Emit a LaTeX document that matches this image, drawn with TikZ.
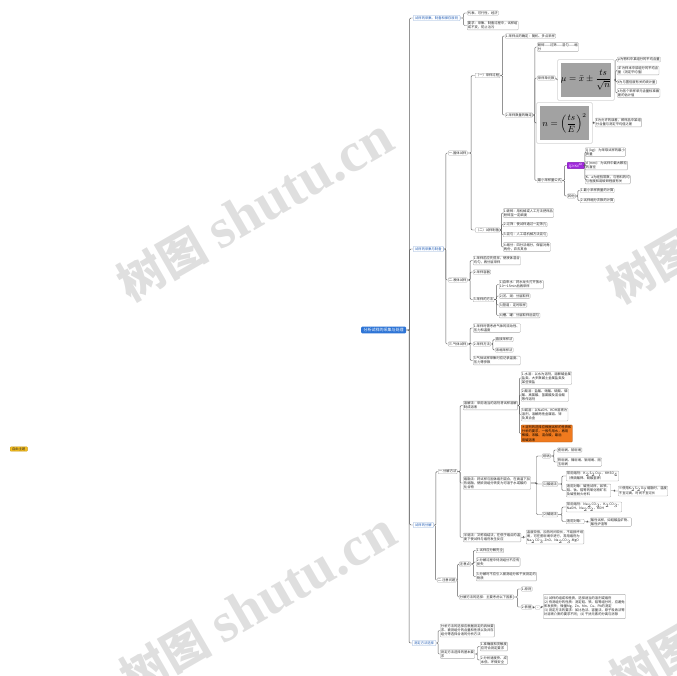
\documentclass[tikz,border=0pt]{standalone}
\usepackage[no-math]{fontspec}
\setmainfont{Noto Sans CJK SC}
\newfontfamily\wmlatin{Liberation Serif}
\usepackage{tikz}
\usetikzlibrary{positioning, calc, fit}
\definecolor{rootblue}{RGB}{46,117,214}
\definecolor{topicblue}{RGB}{30,90,180}
\definecolor{tagpurple}{RGB}{160,40,220}
\definecolor{warnorange}{RGB}{240,122,30}
\definecolor{freeyellow}{RGB}{246,190,30}
\definecolor{formgray}{RGB}{162,162,162}
\definecolor{linkgray}{RGB}{90,90,90}

\tikzset{
  leaf/.style={draw=gray!65, fill=white, rounded corners=0.8pt, line width=0.35pt,
    inner xsep=0.8pt, inner ysep=0.7pt, font=\fontsize{3.3}{4.2}\selectfont,
    align=left, anchor=west, text=black!85},
  topic/.style={leaf, draw=topicblue!50, text=topicblue, inner xsep=2pt, inner ysep=1pt},
  root/.style={fill=rootblue, text=white, rounded corners=1.2pt, inner xsep=2.5pt,
    inner ysep=1.6pt, font=\fontsize{4}{5}\selectfont, anchor=west},
  tag/.style={leaf, fill=tagpurple, draw=tagpurple!80!black, text=white, inner xsep=1.6pt},
  warn/.style={leaf, fill=warnorange, draw=warnorange!70!black, text=black},
  dotbox/.style={leaf, minimum width=5pt, minimum height=3.5pt, inner sep=0.3pt, align=center},
  formula/.style={fill=formgray, inner sep=0pt, font=\fontsize{8.6}{10}\selectfont},
  frame/.style={draw=gray!65, rounded corners=0.8pt, line width=0.35pt, inner sep=3pt},
  link/.style={draw=linkgray, line width=0.45pt, rounded corners=1pt},
  wm/.style={text=gray!25, font=\bfseries, inner sep=0pt}
}

\begin{document}
\begin{tikzpicture}[x=1pt, y=-1pt]
  \useasboundingbox (0,0) rectangle (677,675);

  % watermarks
  \begin{scope}
    \clip (0,0) rectangle (677,675);
    \foreach \wx/\wy in {255/210, 258/604, 745/212, 748/606}
      \node[wm, rotate=30] at (\wx,\wy) {\fontsize{46}{46}\selectfont 树图\hspace{12pt}{\wmlatin\fontsize{56}{56}\selectfont shutu.cn}};
  \end{scope}

  % root and main topics
  \node[root] (root) at (361,330) {分析试样的采集与处理};
  \node[topic] (La) at (413,18) {试样的采集、制备和保存原则};
  \node[topic] (Lb) at (413,249) {试样的采集与制备};
  \node[topic] (Lc) at (413,525) {试样的分解};
  \node[topic] (Ld) at (412,643) {测定方法选择};
  \node[leaf, fill=freeyellow, draw=freeyellow!80!black, inner xsep=2pt] (free) at (10,449) {自由主题};

  % principles
  \node[leaf] (a1) at (467,13) {代表、可行性、经济};
  \node[leaf] (a2) at (467,25.5) {要求：采集、制备过程中，试样组\\成不变，防止沾污};

  % solid / liquid / gas
  \node[leaf] (b1) at (448,153) {一.固体试样};
  \node[leaf] (b2) at (448,280) {二.液体试样};
  \node[leaf] (b3) at (448,344) {三.气体试样};

  \node[leaf] (b11) at (475,75.5) {（一）采样过程};
  \node[leaf] (b12) at (475,230) {（二）试样制备};
  \node[leaf] (b111) at (505,36) {1.采样点的确定：随机、多点采样};
  \node[leaf] (b112) at (505,115) {2.采样数量的确定};

  \node[leaf] (f1) at (537,47) {破碎——过筛——混匀——缩\\分};
  \node[leaf] (f2) at (537,78) {采样单元数};
  \node[formula, minimum width=46pt, minimum height=34pt] (F1) at (586,80)
    {$\displaystyle \mu=\bar{x}\pm\frac{ts}{\sqrt{n}}$};
  \node[frame, fit=(F1)] (F1b) {};
  \node[leaf] (g1) at (617,59.5) {μ为物料中某组分的平均含量};
  \node[leaf] (g2) at (617,70.5) {$\bar{x}$为样本中该组分的平均含\\量（测定平均值）};
  \node[leaf] (g3) at (617,82) {t为与置信度有关的统计量};
  \node[leaf] (g4) at (617,93) {s为各个采样单元含量标准偏\\差的估计值};

  \node[formula, minimum width=49pt, minimum height=34pt] (F2) at (564.5,123)
    {$\displaystyle n=\left(\frac{ts}{E}\right)^{2}$};
  \node[frame, fit=(F2)] (F2b) {};
  \node[leaf] (h1) at (595,122.5) {E为允许的误差，即样品中某组\\分含量与测定平均值之差};

  \node[leaf] (f4) at (537,180.5) {最小采样量公式};
  \node[tag] (p1) at (567,165.5) {Q≥Kd$^{a}$};
  \node[leaf] (p11) at (585,152) {Q (kg)：为采取试样的最小\\质量};
  \node[leaf] (p12) at (585,165.5) {d (mm)：为试样中最大颗粒\\的直径};
  \node[leaf] (p13) at (585,179.5) {K、a为经验常数，与物料的均\\匀程度和易破碎程度有关};
  \node[leaf] (p2) at (567,196) {其他};
  \node[leaf] (p21) at (580,190.5) {1.最小采样质量的计算};
  \node[leaf] (p22) at (580,200.5) {2.试样缩分次数的计算};

  \node[leaf] (c1) at (503,213) {1.破碎：用机械或人工方法把样品\\粉碎至一定细度};
  \node[leaf] (c2) at (503,224.5) {2.过筛：使试样通过一定筛孔};
  \node[leaf] (c3) at (503,234.5) {3.混匀：人工或机械方法混匀};
  \node[leaf] (c4) at (503,247) {4.缩分：四分法缩分，保留对角\\两份，弃去其余};

  \node[leaf] (d1) at (473,260.5) {1.采样前应先搅拌，使液体混合\\均匀，再分层采样};
  \node[leaf] (d2) at (473,272) {2.采样容器};
  \node[leaf] (d3) at (473,299.5) {3.采样的方法};
  \node[leaf] (d31) at (499,284.5) {1)自来水：将水龙头打开放水\\10～15min后再采样};
  \node[leaf] (d32) at (499,296) {2)河、湖：分层取样};
  \node[leaf] (d33) at (499,305) {3)管道：定时取样};
  \node[leaf] (d34) at (499,315.5) {4)槽、罐：分层取样后混匀};

  \node[leaf] (e1) at (473,328) {1.采样时需考虑气体的流动性、\\压力和温度};
  \node[leaf] (e2) at (473,344) {2.采样方法};
  \node[leaf] (e21) at (495,339.5) {直接采样法};
  \node[leaf] (e22) at (495,350) {浓缩采样法};
  \node[leaf] (e3) at (473,360.5) {3.气体试样采集时应记录温度、\\压力等参数};

  % decomposition
  \node[leaf] (k1) at (438,471.5) {一.分解方法};
  \node[leaf] (k2) at (437,580) {二.注意问题};

  \node[leaf] (m1) at (463,405.5) {溶解法：采用适当的溶剂将试样溶解\\制成溶液};
  \node[leaf] (m2) at (463,483) {熔融法：将试样与固体熔剂混合，在高温下加\\热熔融，使欲测组分转变为可溶于水或酸的\\化合物};
  \node[leaf] (m3) at (463,537.5) {半熔法：又称烧结法，在低于熔点的温\\度下使试样与熔剂发生反应};

  \node[leaf] (n1) at (521,378) {1.水溶：以水为溶剂，溶解碱金属\\盐类、大多数碱土金属盐类及\\某些铵盐};
  \node[leaf] (n2) at (521,395) {2.酸溶：盐酸、硝酸、硫酸、磷\\酸、高氯酸、氢氟酸及混合酸\\等作溶剂};
  \node[leaf] (n3) at (521,414.5) {3.碱溶：以NaOH、KOH溶液为\\溶剂，溶解两性金属铝、锌\\及其合金};
  \node[warn] (n4) at (521,433.5) {＊溶剂的选择应根据试样的性质和\\分析的要求，一般先用水，再用\\稀酸、浓酸、混合酸，最后\\用碱溶液};

  \node[leaf] (q1) at (542,456) {坩埚};
  \node[leaf] (q11) at (557,450) {瓷坩埚、铂坩埚};
  \node[leaf] (q12) at (557,462) {铁坩埚、镍坩埚、银坩埚、刚\\玉坩埚};
  \node[leaf] (q2) at (542,484) {(1)酸熔法};
  \node[leaf] (q21) at (566,476) {常用熔剂：K$_2$S$_2$O$_7$、KHSO$_4$\\（焦硫酸钾、硫酸氢钾）};
  \node[leaf] (q22) at (566,490.5) {适用对象：碱性试样，如铁、\\铝、钛、锆等的氧化物矿石\\及碱性耐火材料};
  \node[leaf] (q221) at (618,491) {※使用K$_2$S$_2$O$_7$熔融时，温度\\不宜过高，时间不宜过长};
  \node[leaf] (q3) at (542,514.5) {(2)碱熔法};
  \node[leaf] (q31) at (566,507) {常用熔剂：Na$_2$CO$_3$、K$_2$CO$_3$、\\NaOH、Na$_2$O$_2$、KOH};
  \node[leaf] (q32) at (566,521.5) {适用对象：};
  \node[leaf] (q321) at (590,522) {酸性试样，如硅酸盐矿物、\\酸性炉渣等};
  \node[leaf] (m31) at (526,537) {温度较低，加热时间较长，不易损坏坩\\埚，可在瓷坩埚中进行，常用熔剂为\\Na$_2$CO$_3$-ZnO、Na$_2$CO$_3$-MgO};

  \node[leaf] (r1) at (459,564) {注意点};
  \node[leaf] (r11) at (476,550.5) {1.试样应分解完全};
  \node[leaf] (r12) at (476,562) {2.分解过程中待测组分不应有\\损失};
  \node[leaf] (r13) at (476,576.5) {3.分解时不应引入被测组分和干扰测定的\\物质};
  \node[leaf] (r2) at (459,597) {分解方法的选择：主要考虑以下因素};
  \node[leaf] (r21) at (521,589) {1.原则};
  \node[leaf] (r22) at (521,607) {2.依据};
  \node[dotbox] (r2c) at (535,607.5) {–};
  \node[leaf, inner ysep=2pt] (r3) at (543,606.5) {(1) 试样的组成和性质，选择适当的溶剂或熔剂\\(2) 待测组分的性质：测定硅、铁、铝等组分时，应避免\\挥发损失；微量Mg、Zn、Mn、Cu、Pb的测定\\(3) 测定方法的要求：如比色法、容量法、原子吸收法等\\对溶液介质的要求不同；(4) 干扰元素的分离与消除};

  % method choice
  \node[leaf] (s1) at (440,630.5) {分析方法的选择应根据测定的具体要\\求、被测组分的含量和性质以及共存\\组分等选择合适的分析方法};
  \node[leaf] (s2) at (440,654) {测定方法选择的基本要\\求};
  \node[leaf] (s21) at (480,646.5) {1.准确度和灵敏度\\应符合测定要求};
  \node[leaf] (s22) at (480,660) {2.分析速度快、成\\本低、环保安全};

  % connectors
  \foreach \p/\c in {root/La, root/Lb, root/Lc, root/Ld, La/a1, La/a2,
      Lb/b1, Lb/b2, Lb/b3, b1/b11, b1/b12, b11/b111, b11/b112,
      b112/f1, b112/f2, b112/F2b, b112/f4, f2/F1b, F1b/g1, F1b/g2, F1b/g3, F1b/g4,
      F2b/h1, f4/p1, f4/p2, p1/p11, p1/p12, p1/p13, p2/p21, p2/p22,
      b12/c1, b12/c2, b12/c3, b12/c4, b2/d1, b2/d2, b2/d3,
      d3/d31, d3/d32, d3/d33, d3/d34, b3/e1, b3/e2, b3/e3, e2/e21, e2/e22,
      Lc/k1, Lc/k2, k1/m1, k1/m2, k1/m3, m1/n1, m1/n2, m1/n3, m1/n4,
      m2/q1, m2/q2, m2/q3, q1/q11, q1/q12, q2/q21, q2/q22, q22/q221,
      q3/q31, q3/q32, q32/q321, m3/m31, k2/r1, k2/r2, r1/r11, r1/r12, r1/r13,
      r2/r21, r2/r22, r22/r2c, r2c/r3, Ld/s1, Ld/s2, s2/s21, s2/s22}
    \draw[link] (\p.east) -- ($(\p.east)!.5!(\p.east -| \c.west)$) |- (\c.west);

\end{tikzpicture}
\end{document}
